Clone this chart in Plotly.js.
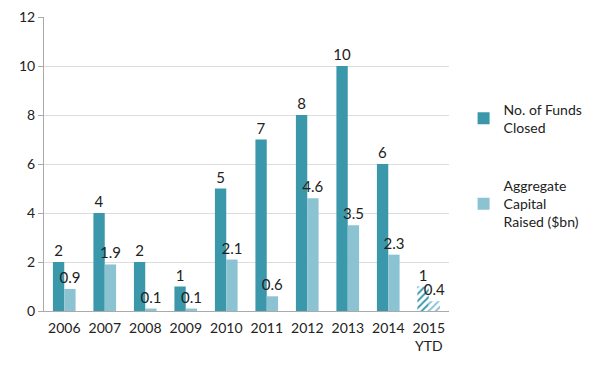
<!DOCTYPE html>
<html>
<head>
<meta charset="utf-8">
<script src="https://cdn.plot.ly/plotly-3.0.1.min.js"></script>
<style>html,body{margin:0;padding:0;background:#fff;}#chart{width:600px;height:366px;}</style>
</head>
<body>
<div id="chart"></div>
<script>
const categories = ["2006","2007","2008","2009","2010","2011","2012","2013","2014","2015<br>YTD"];
const fundsClosed = [2,4,2,1,5,7,8,10,6,1];
const capitalRaised = [0.9,1.9,0.1,0.1,2.1,0.6,4.6,3.5,2.3,0.4];
const fundsLabels = ["2","4","2","1","5","7","8","10","6","1"];
const capitalLabels = ["0.9","1.9","0.1","0.1","2.1","0.6","4.6","3.5","2.3","0.4"];

const dark = "#3b98ab";
const light = "#8cc3d3";
const hatch = categories.map((c,i)=> i===categories.length-1 ? "/" : "");

const font = "Lato, 'Open Sans', sans-serif";

const traces = [
  {
    type: "bar", x: categories, y: fundsClosed, name: "No. of Funds<br>Closed",
    text: fundsLabels, textposition: "outside", cliponaxis: false, constraintext: "none",
    textfont: {size: 15, color: "#222"},
    marker: {color: dark, line: {width: 0},
             pattern: {shape: hatch, fgcolor: dark, bgcolor: "#ffffff", size: 5, solidity: 0.4, fillmode: "replace"}},
    legend: "legend"
  },
  {
    type: "bar", x: categories, y: capitalRaised, name: "Aggregate<br>Capital<br>Raised ($bn)",
    text: capitalLabels, textposition: "outside", cliponaxis: false, constraintext: "none",
    textfont: {size: 15, color: "#222"},
    marker: {color: light, line: {width: 0},
             pattern: {shape: hatch, fgcolor: light, bgcolor: "#ffffff", size: 5, solidity: 0.4, fillmode: "replace"}},
    legend: "legend2"
  }
];

const layout = {
  width: 600, height: 366,
  margin: {l: 44, r: 128, t: 17, b: 55},
  paper_bgcolor: "#fff", plot_bgcolor: "#fff",
  font: {family: font, size: 13, color: "#222"},
  barmode: "group", bargap: 0.44, bargroupgap: 0,
  showlegend: true,
  xaxis: {
    type: "category", showline: true, linecolor: "#aaaaaa", linewidth: 1,
    ticks: "", tickfont: {size: 14}, showgrid: false, fixedrange: true, ticklabelstandoff: 4
  },
  yaxis: {
    range: [0, 12], dtick: 2, showline: true, linecolor: "#aaaaaa", linewidth: 1,
    ticks: "outside", ticklen: 5, tickcolor: "#aaaaaa",
    showgrid: true, gridcolor: "#dddddd", gridwidth: 1, zeroline: false,
    tickfont: {size: 14}, fixedrange: true
  },
  legend: {x: 1.036, xanchor: "left", y: 0.74, yanchor: "top", font: {size: 14, color: "#222"}, itemwidth: 30, bgcolor: "rgba(0,0,0,0)"},
  legend2: {x: 1.036, xanchor: "left", y: 0.48, yanchor: "top", font: {size: 14, color: "#222"}, itemwidth: 30, bgcolor: "rgba(0,0,0,0)"}
};

Plotly.newPlot("chart", traces, layout, {displayModeBar: false, staticPlot: true});
</script>
</body>
</html>
